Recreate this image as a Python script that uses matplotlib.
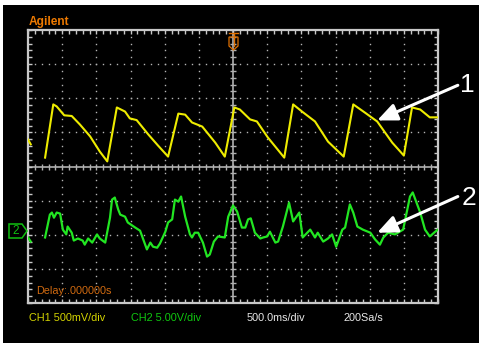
import numpy as np
import matplotlib
matplotlib.use('Agg')
import matplotlib.pyplot as plt
from matplotlib.patches import Rectangle, Polygon
from matplotlib.ticker import MultipleLocator

nan = np.nan

# -- -----------------------------
# CH1 (yellow): time in s relative to trigger, level in divisions
ch1_t = [-3.00, -2.96, nan, -2.75, -2.63, -2.58, -2.47, -2.36, -2.24, -2.09,
         -1.95, -1.84, -1.77, -1.70, -1.58, -1.51, -1.41, -1.24, -1.10, -0.95,
         -0.80, -0.70, -0.60, -0.45, -0.26, -0.12, 0.02, 0.10, 0.25, 0.35,
         0.51, 0.75, 0.88, 1.01, 1.20, 1.39, 1.62, 1.76, 1.93, 2.11,
         2.33, 2.50, 2.62, 2.74, 2.88, 3.00]
ch1_v = [0.79, 0.65, nan, 0.26, 1.82, 1.76, 1.50, 1.48, 1.23, 0.88,
         0.44, 0.15, 0.94, 1.73, 1.61, 1.41, 1.36, 0.94, 0.62, 0.29,
         1.55, 1.52, 1.29, 1.17, 0.70, 0.29, 1.73, 1.67, 1.38, 1.32,
         0.85, 0.26, 1.82, 1.61, 1.32, 0.73, 0.29, 1.82, 1.58, 1.32,
         0.70, 0.32, 1.73, 1.67, 1.44, 1.44]

# CH2 (green)
ch2_t = [-3.00, -2.96, nan, -2.75, -2.68, -2.65, -2.62, -2.58, -2.53, -2.49,
         -2.44, -2.42, -2.36, -2.33, -2.27, -2.20, -2.17, -2.12, -2.06, -1.99,
         -1.95, -1.87, -1.80, -1.77, -1.73, -1.68, -1.65, -1.58, -1.54, -1.43,
         -1.36, -1.26, -1.21, -1.17, -1.11, -1.07, -0.99, -0.95, -0.89, -0.85,
         -0.80, -0.76, -0.70, -0.63, -0.60, -0.56, -0.51, -0.44, -0.38, -0.34,
         -0.28, -0.22, -0.12, -0.07, 0.00, 0.06, 0.13, 0.18, 0.22, 0.26,
         0.32, 0.40, 0.44, 0.50, 0.54, 0.62, 0.66, 0.73, 0.82, 0.88,
         0.97, 1.02, 1.13, 1.20, 1.24, 1.32, 1.39, 1.45, 1.51, 1.60,
         1.64, 1.71, 1.76, 1.82, 1.90, 2.01, 2.08, 2.15, 2.20, 2.27,
         2.37, 2.49, 2.59, 2.63, 2.74, 2.81, 2.88, 2.96, 3.00]
ch2_v = [-2.08, -2.20, nan, -2.08, -1.41, -1.35, -1.50, -1.35, -1.38, -1.85,
         -1.99, -1.76, -1.94, -2.17, -2.11, -2.17, -2.29, -2.11, -2.23, -1.99,
         -2.11, -2.23, -1.50, -0.97, -0.91, -1.26, -1.41, -1.47, -1.64, -1.79,
         -1.88, -2.43, -2.23, -2.35, -2.38, -2.26, -1.91, -1.64, -1.55, -0.97,
         -1.03, -0.88, -1.47, -1.99, -2.08, -1.94, -1.94, -2.23, -2.64, -2.58,
         -2.20, -2.05, -2.08, -1.47, -1.14, -1.32, -1.79, -1.79, -1.55, -1.52,
         -1.94, -2.11, -2.08, -2.05, -1.91, -2.23, -2.20, -1.76, -1.06, -1.61,
         -1.35, -2.08, -1.85, -2.08, -1.94, -2.20, -2.11, -1.99, -2.35, -1.85,
         -1.79, -1.11, -1.35, -1.76, -1.85, -1.94, -2.14, -2.29, -2.08, -1.94,
         -1.99, -1.85, -0.88, -0.76, -1.35, -1.85, -2.05, -1.91, -1.85]

# annotation targets (time, level)
mark1_tip = (2.11, 1.35)
mark2_tip = (2.11, -1.94)

status_labels = ['CH1 500mV/div', 'CH2 5.00V/div', '500.0ms/div', '200Sa/s']
status_colors = ['#D4D400', '#10C810', '#E8E8E8', '#E8E8E8']
status_x = [29, 131, 247, 343]


# -- -----------------------------
W, H = 479, 343
FONT = 'Liberation Sans'


def fx(px):
    return px / W


def fy(py):
    return 1 - py / H


fig = plt.figure(figsize=(W / 100, H / 100), dpi=100, facecolor='white')
fig.patches.append(Rectangle((fx(3), 0), 1, fy(5), transform=fig.transFigure,
                             facecolor='black', edgecolor='none', zorder=-10))

ax = fig.add_axes([fx(28), fy(303), 410 / W, 273 / H])
ax.set_facecolor('black')
ax.set_xlim(-3, 3)
ax.set_ylim(-4, 4)

grid_c = '#B4B4B4'
for s in ax.spines.values():
    s.set_color('#C8C8C8')
    s.set_linewidth(1.6)

ax.xaxis.set_major_locator(MultipleLocator(0.1))
ax.yaxis.set_major_locator(MultipleLocator(0.2))
ax.tick_params(direction='in', length=3, width=1, color='#C8C8C8',
               top=True, right=True, labelbottom=False, labelleft=False)

# -- -----------------------------
# dotted graticule
dots_x = np.arange(-3, 3.001, 0.1)
dots_y = np.arange(-4, 4.001, 0.2)
for gx in np.arange(-2.5, 2.51, 0.5):
    if abs(gx) < 1e-9:
        continue
    ax.plot(np.full_like(dots_y, gx), dots_y, ls='none', marker='s', ms=1.0,
            mew=0, color=grid_c, zorder=1)
for gy in np.arange(-3, 3.01, 1):
    if abs(gy) < 1e-9:
        continue
    ax.plot(dots_x, np.full_like(dots_x, gy), ls='none', marker='s', ms=1.0,
            mew=0, color=grid_c, zorder=1)

# centre cross with ticks
ax.axhline(0, color='#B0B0B0', lw=1.2, zorder=1)
ax.axvline(0, color='#B0B0B0', lw=1.2, zorder=1)
ax.plot(dots_x, np.zeros_like(dots_x), ls='none', marker='|', ms=5, mew=1,
        color='#B0B0B0', zorder=1)
ax.plot(np.zeros_like(dots_y), dots_y, ls='none', marker='_', ms=5, mew=1,
        color='#B0B0B0', zorder=1)

# -- -----------------------------
# traces
ax.plot(ch1_t, ch1_v, color='#EEEC00', lw=1.5, zorder=3)
ax.plot(ch2_t, ch2_v, color='#22E622', lw=1.6, zorder=3)

# -- -----------------------------
# arrows and numbers
arrow = dict(arrowstyle='-|>,head_length=0.8,head_width=0.35', color='white',
             lw=2.2, shrinkA=0, shrinkB=0, mutation_scale=15)
ax.annotate('', xy=mark1_tip, xytext=(3.29, 2.38), arrowprops=arrow,
            annotation_clip=False, zorder=5)
ax.annotate('', xy=mark2_tip, xytext=(3.29, -0.88), arrowprops=arrow,
            annotation_clip=False, zorder=5)
fig.text(fx(467), fy(85), '1', color='white', fontsize=19, family=FONT,
         ha='center', va='center')
fig.text(fx(469), fy(198), '2', color='white', fontsize=19, family=FONT,
         ha='center', va='center')

# -- -----------------------------
# scope labels
fig.text(fx(29), fy(22), 'Agilent', color='#EE7A00', fontsize=8.6,
         fontweight='bold', family=FONT, va='center')
fig.text(fx(36), fy(291), 'Delay:.000000s', color='#D06A10', fontsize=7.8,
         family=FONT, va='center')
for lbl, col, px in zip(status_labels, status_colors, status_x):
    fig.text(fx(px), fy(318), lbl, color=col, fontsize=7.8, family=FONT,
             va='center')

# trigger marker
orange = '#E07000'
fig.patches.append(Polygon([(fx(229), fy(37)), (fx(238), fy(37)), (fx(238), fy(46)),
                            (fx(233.5), fy(50)), (fx(229), fy(46))],
                           closed=True, fill=False, edgecolor=orange, lw=0.9,
                           transform=fig.transFigure, zorder=6))
fig.lines.append(plt.Line2D([fx(229), fx(238)], [fy(33), fy(33)], color=orange,
                            lw=1.0, transform=fig.transFigure, zorder=6))
fig.lines.append(plt.Line2D([fx(233.5), fx(233.5)], [fy(33), fy(46)], color=orange,
                            lw=1.0, transform=fig.transFigure, zorder=6))

# CH2 ground marker
green = '#10C010'
fig.patches.append(Polygon([(fx(9), fy(224)), (fx(22), fy(224)), (fx(27), fy(231)),
                            (fx(22), fy(238)), (fx(9), fy(238))],
                           closed=True, fill=False, edgecolor=green, lw=1.1,
                           transform=fig.transFigure))
fig.text(fx(16), fy(231), '2', color=green, fontsize=8.5, family=FONT,
         ha='center', va='center')

fig.savefig('out.png', dpi=100, facecolor=fig.get_facecolor())
